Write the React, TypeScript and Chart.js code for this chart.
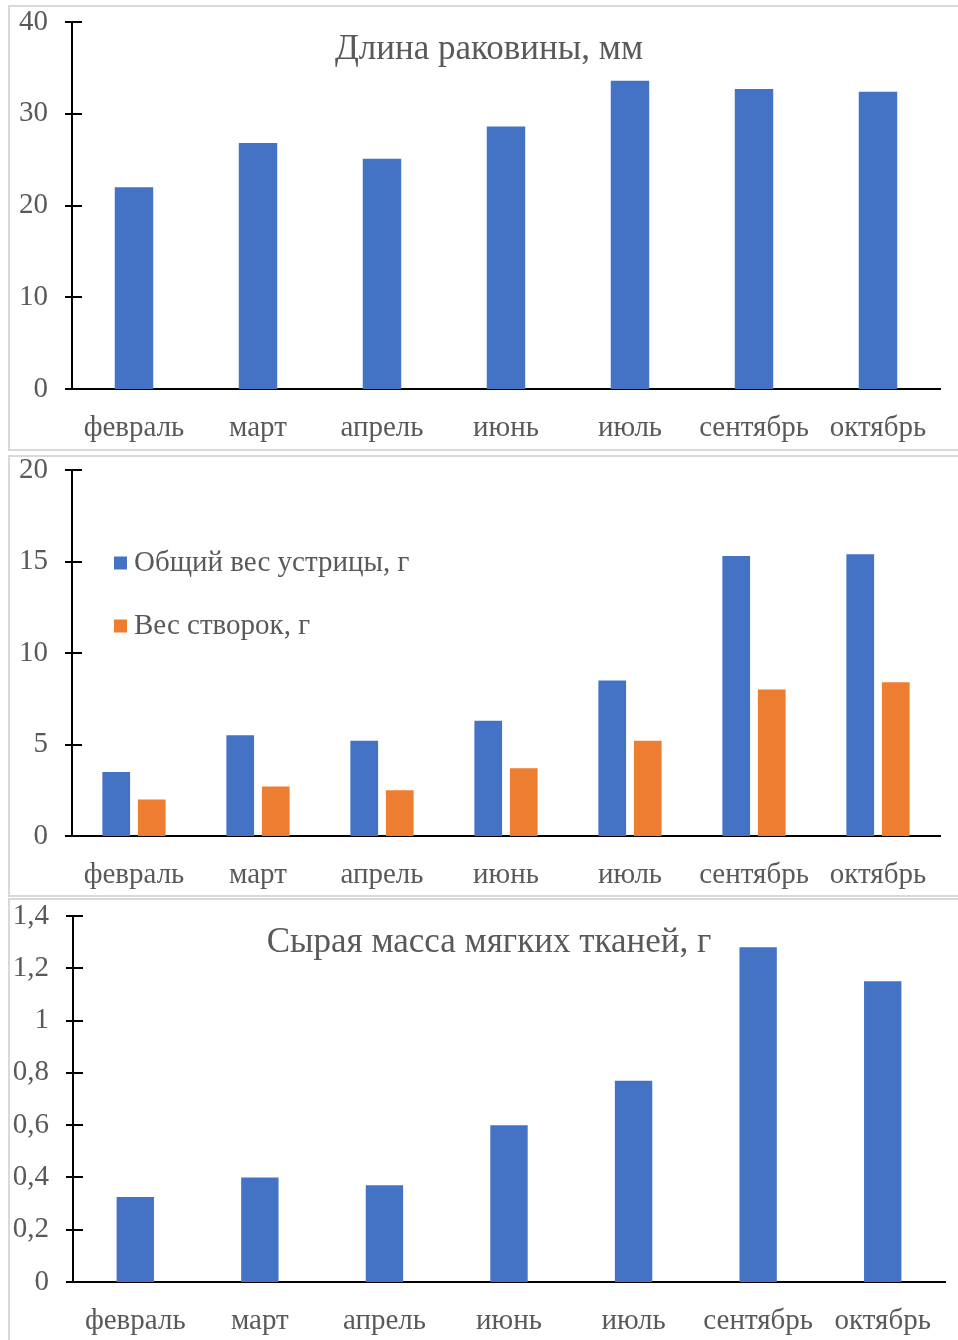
import { useEffect, useRef } from "react";
import { Chart, registerables } from "chart.js";

Chart.register(...registerables);

// Months of sampling
const months = ["февраль", "март", "апрель", "июнь", "июль", "сентябрь", "октябрь"];

// Shell length, mm
const shellLength = [22.0, 26.8, 25.1, 28.6, 33.6, 32.7, 32.4];

// Total oyster weight and valve weight, g
const totalWeight = [3.5, 5.5, 5.2, 6.3, 8.5, 15.3, 15.4];
const valveWeight = [2.0, 2.7, 2.5, 3.7, 5.2, 8.0, 8.4];

// Wet mass of soft tissues, g
const softTissue = [0.325, 0.4, 0.37, 0.6, 0.77, 1.28, 1.15];

const titleLength = "Длина раковины, мм";
const titleSoft = "Сырая масса мягких тканей, г";
const labelTotal = "Общий вес устрицы, г";
const labelValves = "Вес створок, г";

const FONT = '"Liberation Serif", "Times New Roman", serif';
const GRAY = "#595959";
const BLUE = "#4472C4";
const ORANGE = "#ED7D31";

const CANVAS_LEFT = 10;
const CANVAS_WIDTH = 958;

type Plot = { left: number; right: number; top: number; bottom: number };
type PanelSpec = {
  boxTop: number;
  boxHeight: number;
  plot: Plot; // page coordinates
  datasets: any[];
  max: number;
  step: number;
  decimalComma?: boolean;
  title?: string;
  titleY?: number;
  legend?: { x: number; y: number; gap: number };
  categoryPercentage: number;
  barPercentage: number;
};

const TICK_FONT = 29;
const CAT_FONT = 29;
const TITLE_FONT = 35;
const LEGEND_FONT = 29;

function makeChart(canvas: HTMLCanvasElement, spec: PanelSpec) {
  const innerTop = spec.boxTop + 2;
  const canvasHeight = spec.boxHeight - 4;
  const p = spec.plot;
  const left = p.left - CANVAS_LEFT;
  const right = p.right - CANVAS_LEFT;
  const top = p.top - innerTop;
  const bottom = p.bottom - innerTop;

  // y-axis tick marks that cross the axis line
  const crossTicks = {
    id: "crossTicks",
    afterDraw(chart: any) {
      const ys = chart.scales.y;
      const ctx = chart.ctx;
      const x0 = chart.chartArea.left;
      ctx.save();
      ctx.strokeStyle = "#000";
      ctx.lineWidth = 2;
      ys.ticks.forEach((_: any, i: number) => {
        const py = Math.round(ys.getPixelForTick(i));
        ctx.beginPath();
        ctx.moveTo(x0 - 7, py);
        ctx.lineTo(x0 + 10, py);
        ctx.stroke();
      });
      ctx.restore();
    },
  };

  // title laid over the plot area
  const overlayTitle = {
    id: "overlayTitle",
    afterDraw(chart: any) {
      if (!spec.title) return;
      const ctx = chart.ctx;
      ctx.save();
      ctx.font = `${TITLE_FONT}px ${FONT}`;
      ctx.fillStyle = GRAY;
      ctx.textAlign = "center";
      ctx.textBaseline = "middle";
      ctx.fillText(spec.title, CANVAS_WIDTH / 2, (spec.titleY as number) - innerTop);
      ctx.restore();
    },
  };

  // legend placed inside the plot area
  const insideLegend = {
    id: "insideLegend",
    afterDraw(chart: any) {
      if (!spec.legend) return;
      const ctx = chart.ctx;
      const lg = spec.legend;
      ctx.save();
      ctx.font = `${LEGEND_FONT}px ${FONT}`;
      ctx.textAlign = "left";
      ctx.textBaseline = "middle";
      chart.data.datasets.forEach((ds: any, i: number) => {
        const cy = lg.y - innerTop + i * lg.gap;
        const x = lg.x - CANVAS_LEFT;
        ctx.fillStyle = ds.backgroundColor;
        ctx.fillRect(x, cy - 6.5, 13, 13);
        ctx.fillStyle = GRAY;
        ctx.fillText(ds.label, x + 20, cy);
      });
      ctx.restore();
    },
  };

  return new Chart(canvas, {
    type: "bar",
    data: { labels: months, datasets: spec.datasets },
    options: {
      responsive: false,
      animation: false,
      events: [],
      layout: { padding: { top, right: CANVAS_WIDTH - right, left: 0, bottom: 0 } },
      datasets: {
        bar: {
          categoryPercentage: spec.categoryPercentage,
          barPercentage: spec.barPercentage,
        },
      },
      plugins: {
        legend: { display: false },
        title: { display: false },
        tooltip: { enabled: false },
      },
      scales: {
        x: {
          grid: { display: false, drawTicks: false },
          border: { display: true, color: "#000", width: 2 },
          ticks: {
            color: GRAY,
            font: { family: FONT, size: CAT_FONT },
            padding: 22,
            maxRotation: 0,
            autoSkip: false,
          },
          afterFit(scale: any) {
            scale.height = canvasHeight - bottom;
            scale.paddingLeft = 0;
            scale.paddingRight = 0;
          },
        },
        y: {
          min: 0,
          max: spec.max,
          grid: { display: false, drawTicks: false },
          border: { display: true, color: "#000", width: 2 },
          ticks: {
            stepSize: spec.step,
            color: GRAY,
            font: { family: FONT, size: TICK_FONT },
            padding: 24,
            callback(value: any) {
              const v = Number(Number(value).toFixed(2));
              const s = String(v);
              return spec.decimalComma ? s.replace(".", ",") : s;
            },
          },
          afterFit(scale: any) {
            scale.width = left;
            scale.paddingTop = 0;
            scale.paddingBottom = 0;
          },
        },
      },
    } as any,
    plugins: [crossTicks, overlayTitle, insideLegend],
  });
}

function Panel({ spec }: { spec: PanelSpec }) {
  const ref = useRef<HTMLCanvasElement>(null);
  useEffect(() => {
    const chart = makeChart(ref.current as HTMLCanvasElement, spec);
    return () => chart.destroy();
  }, [spec]);
  const h = spec.boxHeight - 4;
  return (
    <div
      style={{
        position: "absolute",
        left: 8,
        top: spec.boxTop,
        width: 964,
        height: spec.boxHeight,
        border: "2px solid #d9d9d9",
        boxSizing: "border-box",
        background: "#fff",
      }}
    >
      <canvas
        ref={ref}
        width={CANVAS_WIDTH}
        height={h}
        style={{ position: "absolute", left: 0, top: 0, width: CANVAS_WIDTH, height: h }}
      />
    </div>
  );
}

const panels: PanelSpec[] = [
  {
    boxTop: 5,
    boxHeight: 446,
    plot: { left: 72, right: 940, top: 22, bottom: 389 },
    datasets: [{ label: titleLength, data: shellLength, backgroundColor: BLUE }],
    max: 40,
    step: 10,
    title: titleLength,
    titleY: 50,
    categoryPercentage: 1,
    barPercentage: 0.31,
  },
  {
    boxTop: 455,
    boxHeight: 442,
    plot: { left: 72, right: 940, top: 470, bottom: 836 },
    datasets: [
      { label: labelTotal, data: totalWeight, backgroundColor: BLUE },
      { label: labelValves, data: valveWeight, backgroundColor: ORANGE },
    ],
    max: 20,
    step: 5,
    legend: { x: 114, y: 563, gap: 63 },
    categoryPercentage: 0.573,
    barPercentage: 0.78,
  },
  {
    boxTop: 898,
    boxHeight: 452,
    plot: { left: 73, right: 945, top: 916, bottom: 1282 },
    datasets: [{ label: titleSoft, data: softTissue, backgroundColor: BLUE }],
    max: 1.4,
    step: 0.2,
    decimalComma: true,
    title: titleSoft,
    titleY: 943,
    categoryPercentage: 1,
    barPercentage: 0.3,
  },
];

export default function App() {
  return (
    <div
      style={{
        position: "absolute",
        left: 0,
        top: 0,
        width: 958,
        height: 1340,
        overflow: "hidden",
        background: "#fff",
      }}
    >
      {panels.map((s, i) => (
        <Panel key={i} spec={s} />
      ))}
    </div>
  );
}
